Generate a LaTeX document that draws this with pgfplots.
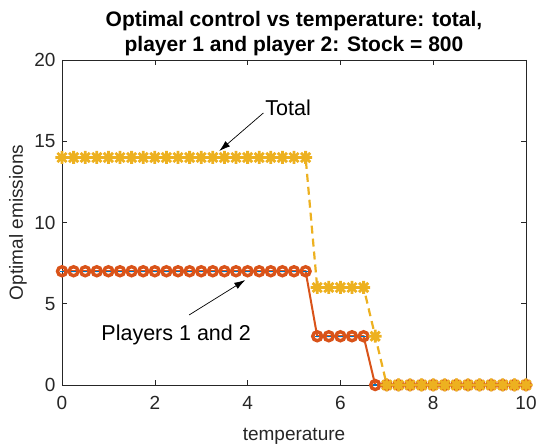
\documentclass[border=0pt]{standalone}
\usepackage{fontspec}
\setmainfont{Liberation Sans}
\usepackage{pgfplots}
\pgfplotsset{compat=1.18}
\usetikzlibrary{arrows.meta}

\definecolor{mblue}{rgb}{0,0.447,0.741}
\definecolor{morange}{rgb}{0.85,0.325,0.098}
\definecolor{myellow}{rgb}{0.929,0.694,0.125}
\definecolor{axgray}{rgb}{0.15,0.15,0.15}

% eight-spoke asterisk
\pgfdeclareplotmark{ast8}{%
  \pgfpathmoveto{\pgfqpoint{-\pgfplotmarksize}{0pt}}\pgfpathlineto{\pgfqpoint{\pgfplotmarksize}{0pt}}%
  \pgfpathmoveto{\pgfqpoint{0pt}{-\pgfplotmarksize}}\pgfpathlineto{\pgfqpoint{0pt}{\pgfplotmarksize}}%
  \pgfpathmoveto{\pgfqpoint{-0.707\pgfplotmarksize}{-0.707\pgfplotmarksize}}\pgfpathlineto{\pgfqpoint{0.707\pgfplotmarksize}{0.707\pgfplotmarksize}}%
  \pgfpathmoveto{\pgfqpoint{-0.707\pgfplotmarksize}{0.707\pgfplotmarksize}}\pgfpathlineto{\pgfqpoint{0.707\pgfplotmarksize}{-0.707\pgfplotmarksize}}%
  \pgfusepathqstroke}

\newcommand{\axfont}{\fontsize{19bp}{22bp}\selectfont}

\begin{document}
\begin{tikzpicture}[x=1bp,y=1bp]
\path[use as bounding box] (-62,-61) rectangle (474,385);
\begin{axis}[
  at={(0,0)}, anchor=south west,
  scale only axis, width=464bp, height=325bp,
  xmin=0, xmax=10, ymin=0, ymax=20,
  xtick={0,2,...,10}, ytick={0,5,...,20},
  tick align=inside, major tick length=5bp,
  axis line style={axgray, line width=0.6bp},
  tick style={axgray, line width=0.6bp},
  ticklabel style={font=\axfont, text=axgray},
  xticklabel style={yshift=-8bp},
  yticklabel style={xshift=-3bp},
  /pgf/number format/assume math mode=true,
  xlabel={temperature}, ylabel={Optimal emissions},
  label style={font=\axfont, text=axgray},
  xlabel style={at={(axis description cs:0.5,0)}, anchor=center, yshift=-51bp},
  ylabel style={at={(axis description cs:0,0.5)}, anchor=center, yshift=44bp},
  title={Optimal control vs temperature: total,\\player 1 and player 2: Stock = 800},
  title style={font=\bfseries\fontsize{21bp}{25bp}\selectfont, align=center, text=black, at={(axis description cs:0.5,1)}, anchor=south, yshift=-5bp},
  clip=false,
]
% player 2
\addplot[morange, line width=2bp, mark=o, mark size=4.5bp,
  mark options={line width=3.4bp}] coordinates {
(0,7)(0.25,7)(0.5,7)(0.75,7)(1,7)(1.25,7)(1.5,7)(1.75,7)(2,7)(2.25,7)(2.5,7)
(2.75,7)(3,7)(3.25,7)(3.5,7)(3.75,7)(4,7)(4.25,7)(4.5,7)(4.75,7)(5,7)(5.25,7)
(5.5,3)(5.75,3)(6,3)(6.25,3)(6.5,3)
(6.75,0)(7,0)(7.25,0)(7.5,0)(7.75,0)(8,0)(8.25,0)(8.5,0)(8.75,0)(9,0)(9.25,0)
(9.5,0)(9.75,0)(10,0)};
% player 1
\addplot[mblue, only marks, mark=-, mark size=2.2bp, mark options={line width=1.2bp}] coordinates {
(0,7)(0.25,7)(0.5,7)(0.75,7)(1,7)(1.25,7)(1.5,7)(1.75,7)(2,7)(2.25,7)(2.5,7)
(2.75,7)(3,7)(3.25,7)(3.5,7)(3.75,7)(4,7)(4.25,7)(4.5,7)(4.75,7)(5,7)(5.25,7)
(5.5,3)(5.75,3)(6,3)(6.25,3)(6.5,3)
(6.75,0)};
% total
\addplot[myellow, line width=2.2bp, dash pattern=on 8bp off 5bp, mark=ast8, mark size=6.5bp,
  mark options={solid, line width=2.8bp}] coordinates {
(0,14)(0.25,14)(0.5,14)(0.75,14)(1,14)(1.25,14)(1.5,14)(1.75,14)(2,14)(2.25,14)(2.5,14)
(2.75,14)(3,14)(3.25,14)(3.5,14)(3.75,14)(4,14)(4.25,14)(4.5,14)(4.75,14)(5,14)(5.25,14)
(5.5,6)(5.75,6)(6,6)(6.25,6)(6.5,6)
(6.75,3)
(7,0)(7.25,0)(7.5,0)(7.75,0)(8,0)(8.25,0)(8.5,0)(8.75,0)(9,0)(9.25,0)
(9.5,0)(9.75,0)(10,0)};
% annotations
\draw[black, line width=0.7bp, -{Latex[length=11bp,width=7bp]}] (axis cs:4.34,16.74) -- (axis cs:3.39,14.4);
\node[anchor=west, inner sep=0pt, font=\fontsize{21.5bp}{24bp}\selectfont] at (axis cs:4.38,17.05) {Total};
\draw[black, line width=0.7bp, -{Latex[length=11bp,width=7bp]}] (axis cs:2.74,4.31) -- (axis cs:3.95,6.46);
\node[anchor=center, inner sep=0pt, font=\fontsize{21.5bp}{24bp}\selectfont] at (axis cs:2.46,3.08) {Players 1 and 2};
\end{axis}
\end{tikzpicture}
\end{document}
